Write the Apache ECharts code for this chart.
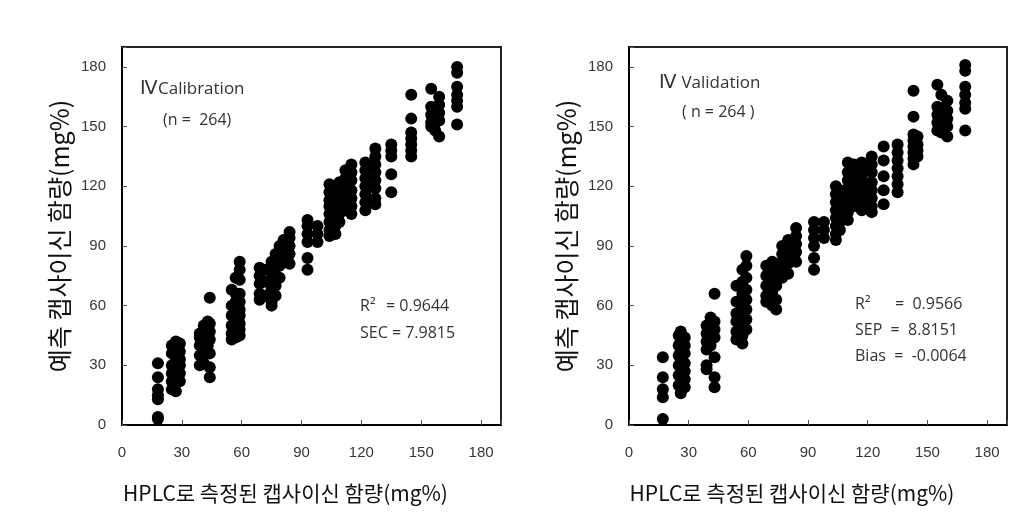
<!DOCTYPE html>
<html>
<head>
<meta charset="utf-8">
<script src="https://cdn.jsdelivr.net/npm/echarts@6/dist/echarts.min.js"></script>
<style>
html,body{margin:0;padding:0;background:#fff;}
#c{width:1029px;height:516px;}
</style>
</head>
<body>
<div id="c"></div>
<script>
// Tick labels
const tickValues = [0, 30, 60, 90, 120, 150, 180];
const xTitle = 'HPLC로 측정된 캡사이신 함량(mg%)';
const yTitle = '예측 캡사이신 함량(mg%)';

// Calibration set: HPLC value columns and predicted values per column
const calCols = [18, 25, 27, 29, 39, 41, 43, 44, 55, 57, 59, 69, 72, 75, 77, 79, 81, 84, 93, 98,
  104, 107, 109, 112, 115, 122, 127, 135, 145, 155, 157, 159, 168];
const calVals = [
  [31, 24, 18, 15, 13, 4, 3],
  [40, 36, 30, 26, 22, 18],
  [42, 41, 38, 35, 32, 29, 27, 24, 21, 17],
  [41, 37, 33, 30, 26, 22],
  [46, 44, 40, 35, 30],
  [50, 47, 44, 42, 38, 31],
  [52, 48, 45, 40, 36],
  [64, 51, 47, 43, 36, 29, 24],
  [68, 60, 55, 50, 46, 43],
  [74, 66, 62, 58, 54, 50, 47, 44],
  [82, 78, 73, 66, 62, 58, 55, 51, 48, 45],
  [79, 75, 71, 66, 63],
  [78, 72, 65],
  [82, 77, 73, 68, 62, 60],
  [86, 83, 79, 75, 70, 65],
  [90, 87, 84, 80, 74],
  [93, 90, 85, 82],
  [97, 94, 90, 86, 81],
  [103, 100, 96, 92, 84, 78],
  [100, 96, 92],
  [121, 117, 113, 110, 106, 102, 98, 95],
  [115, 111, 107, 103, 100, 96],
  [122, 118, 114, 110, 106, 102],
  [128, 124, 120, 116, 112, 108],
  [131, 127, 123, 118, 114, 110, 106],
  [132, 128, 124, 120, 116, 112, 108],
  [139, 135, 131, 127, 123, 119, 114, 111],
  [141, 138, 135, 126, 117],
  [166, 154, 147, 144, 141, 138, 135],
  [169, 160, 156, 152, 150],
  [158, 155, 152, 148],
  [165, 161, 157, 153, 145],
  [180, 177, 170, 166, 163, 160, 151]
];

// Validation set
const valCols = [17, 25, 26, 28, 39, 41, 43, 54, 57, 59, 69, 72, 74, 77, 80, 84, 93, 98,
  104, 106, 110, 113, 117, 122, 128, 135, 143, 145, 155, 157, 160, 169];
const valVals = [
  [34, 24, 18, 14, 3],
  [45, 40, 35, 30, 25, 20],
  [47, 42, 38, 33, 29, 24, 20, 16],
  [44, 40, 36, 31, 27, 23, 19],
  [50, 46, 42, 38, 30, 28],
  [54, 49, 45, 40],
  [66, 52, 48, 44, 34, 24, 19],
  [70, 62, 56, 52, 47, 43],
  [78, 72, 66, 60, 55, 50, 45, 41],
  [85, 80, 74, 68, 63, 58, 53, 48],
  [80, 75, 70, 65, 62],
  [82, 77, 72, 67, 60],
  [78, 74, 70, 63, 58],
  [90, 86, 82, 78, 74],
  [93, 89, 85, 81, 76],
  [99, 95, 91, 87, 82],
  [102, 98, 94, 90, 84, 78],
  [102, 98, 94],
  [120, 116, 112, 108, 104, 100, 96, 93],
  [118, 114, 110, 106, 102, 98],
  [132, 127, 123, 119, 115, 111, 107, 103],
  [131, 126, 122, 118, 114, 110],
  [132, 128, 124, 120, 116, 112, 108],
  [135, 131, 127, 122, 118, 114, 110, 107],
  [140, 133, 125, 118, 111],
  [141, 137, 133, 129, 125, 121, 117],
  [168, 155, 146, 143, 140, 137, 134, 131],
  [145, 141, 138, 135],
  [171, 160, 156, 152, 148],
  [166, 159, 155, 151, 147],
  [163, 158, 154, 150, 145],
  [181, 178, 170, 166, 162, 159, 148]
];

function pairs(cols, vals) {
  const out = [];
  cols.forEach((x, i) => vals[i].forEach(y => out.push([x, y])));
  return out;
}
const calData = pairs(calCols, calVals);
const valData = pairs(valCols, valVals);

const labelColor = '#3a3340';
const sans = 'Liberation Sans';
const cjk = '"Noto Sans CJK KR", "Noto Sans", sans-serif';

function fmt(v) { return tickValues.indexOf(v) >= 0 ? String(v) : ''; }

function xAxis(gi) {
  return {
    type: 'value', gridIndex: gi, min: 0, max: 190, interval: 30,
    name: xTitle, nameLocation: 'middle', nameGap: 58,
    nameTextStyle: { fontFamily: cjk, fontSize: 21, color: '#111', padding: [0, 52, 0, 0] },
    axisLine: { show: true, lineStyle: { color: '#000', width: 2 } },
    axisTick: { show: true, inside: true, length: 5, lineStyle: { color: '#555' } },
    axisLabel: { formatter: fmt, margin: 20, color: labelColor, fontFamily: sans, fontSize: 15 },
    splitLine: { show: false }
  };
}
function yAxis(gi) {
  return {
    type: 'value', gridIndex: gi, min: 0, max: 190, interval: 30,
    name: yTitle, nameLocation: 'middle', nameGap: 50, nameRotate: 90,
    nameTextStyle: { fontFamily: cjk, fontSize: 25, color: '#111' },
    axisLine: { show: true, lineStyle: { color: '#000', width: 2 } },
    axisTick: { show: true, inside: true, length: 5, lineStyle: { color: '#555' } },
    axisLabel: { formatter: fmt, margin: 16, color: labelColor, fontFamily: sans, fontSize: 15 },
    splitLine: { show: false }
  };
}

const annoFont = '"Open Sans", "Noto Sans", sans-serif';
function txt(x, y, s, size) {
  return { type: 'text', left: x, top: y, style: { text: s, fill: '#333', font: (size || 16) + 'px ' + annoFont } };
}
function rich(x, y, iv, rest) {
  return { type: 'text', left: x, top: y, style: {
    text: '{a|Ⅳ}{b|' + rest + '}',
    rich: {
      a: { fontFamily: 'Liberation Serif', fontSize: 19, fill: '#333' },
      b: { fontFamily: annoFont, fontSize: 17, fill: '#333' }
    }
  } };
}

const chart = echarts.init(document.getElementById('c'));
chart.setOption({
  backgroundColor: '#fff',
  animation: false,
  grid: [
    { left: 122, top: 47, width: 379, height: 378, show: true, borderColor: '#222', borderWidth: 2, backgroundColor: 'transparent' },
    { left: 629, top: 47, width: 378, height: 378, show: true, borderColor: '#222', borderWidth: 2, backgroundColor: 'transparent' }
  ],
  xAxis: [xAxis(0), xAxis(1)],
  yAxis: [yAxis(0), yAxis(1)],
  series: [
    { type: 'scatter', xAxisIndex: 0, yAxisIndex: 0, data: calData, symbolSize: 12, itemStyle: { color: '#000', opacity: 1 } },
    { type: 'scatter', xAxisIndex: 1, yAxisIndex: 1, data: valData, symbolSize: 12, itemStyle: { color: '#000', opacity: 1 } }
  ],
  graphic: [
    rich(140, 80, 'Ⅳ', 'Calibration'),
    txt(163, 112, '(n =  264)'),
    txt(360, 298, 'R²'),
    txt(386, 298, '= 0.9644'),
    txt(360, 325, 'SEC = 7.9815'),
    rich(659, 74, 'Ⅳ', ' Validation'),
    txt(682, 104, '( n = 264 )'),
    txt(855, 296, 'R²'),
    txt(895, 296, '=  0.9566'),
    txt(855, 322, 'SEP  =  8.8151'),
    txt(855, 348, 'Bias  =  -0.0064')
  ]
});
</script>
</body>
</html>
